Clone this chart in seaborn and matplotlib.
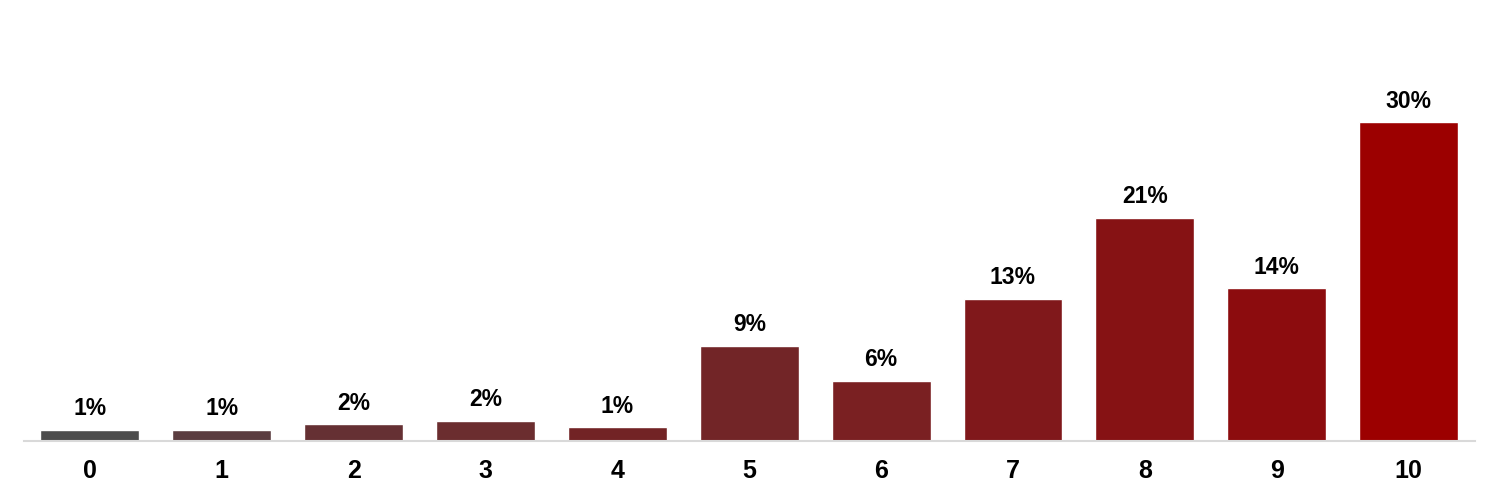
import seaborn as sns
import matplotlib.pyplot as plt
import pandas as pd

# scores 0-10 and share of respondents (%)
scores = ['0', '1', '2', '3', '4', '5', '6', '7', '8', '9', '10']
shares = [1.1, 1.1, 1.6, 1.9, 1.3, 9.0, 5.7, 13.4, 21.0, 14.4, 30.0]
labels = ['1%', '1%', '2%', '2%', '1%', '9%', '6%', '13%', '21%', '14%', '30%']
colors = ['#4d4d4d', '#5b3d40', '#653033', '#6b2d2f', '#722325', '#722527',
          '#7a2022', '#80181b', '#861214', '#8c0c0e', '#9c0000']

df = pd.DataFrame({'score': scores, 'share': shares})

sns.set_style('white')
plt.rcParams['font.family'] = ['Liberation Sans', 'DejaVu Sans']

fig = plt.figure(figsize=(15, 4.93), dpi=100)
ax = fig.add_axes([0.016, 0.105, 0.967, 0.895])

sns.barplot(data=df, x='score', y='share', hue='score', palette=colors,
            legend=False, width=0.75, saturation=1, ax=ax)

for i, (v, lab) in enumerate(zip(shares, labels)):
    ax.text(i, v + 0.9, lab, ha='center', va='bottom', fontsize=16.5,
            fontweight='bold', color='black')

ax.set_ylim(0, 41.5)
ax.set_xlim(-0.5, len(scores) - 0.5)
ax.set_yticks([])
ax.set_xlabel('')
ax.set_ylabel('')
for s in ['top', 'left', 'right']:
    ax.spines[s].set_visible(False)
ax.spines['bottom'].set_color('#d9d9d9')
ax.spines['bottom'].set_linewidth(1.5)
ax.tick_params(axis='x', length=0, pad=13, labelsize=18, labelcolor='black')
for t in ax.get_xticklabels():
    t.set_fontweight('bold')

fig.savefig('out.png', dpi=100)
